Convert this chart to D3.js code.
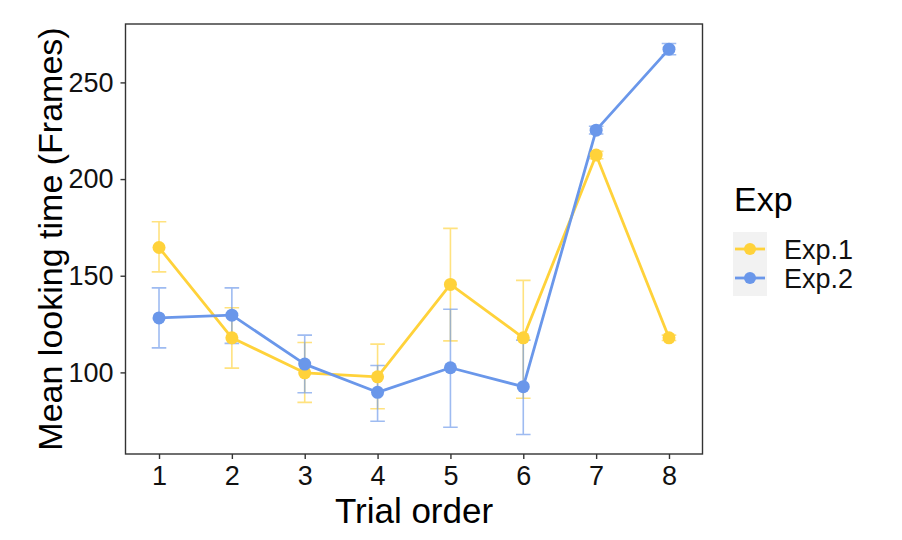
<!DOCTYPE html>
<html>
<head>
<meta charset="utf-8">
<script src="https://cdn.jsdelivr.net/npm/d3@7"></script>
<style>
  html, body { margin: 0; padding: 0; background: #fff; }
  svg { display: block; font-family: "Liberation Sans", Arial, sans-serif; }
</style>
</head>
<body>
<svg id="chart" width="902" height="540"></svg>
<script>
// ---- data ----
const trials = [1, 2, 3, 4, 5, 6, 7, 8];
const seriesNames = ["Exp.1", "Exp.2"];
const exp1Mean  = [164.6, 117.9, 99.8, 97.7, 145.5, 117.9, 212.4, 117.9];
const exp1Lower = [152.0, 102.2, 84.5, 81.2, 116.3, 86.6, 210.5, 116.5];
const exp1Upper = [177.9, 133.4, 115.5, 114.6, 174.5, 147.6, 214.3, 119.3];
const exp2Mean  = [128.2, 129.6, 104.3, 89.7, 102.4, 92.6, 225.3, 267.2];
const exp2Lower = [112.7, 115.0, 89.5, 74.7, 71.6, 67.9, 223.3, 264.3];
const exp2Upper = [143.7, 143.7, 119.3, 103.6, 132.7, 116.7, 227.3, 270.1];
const yTicks = [100, 150, 200, 250];
const xTicks = [1, 2, 3, 4, 5, 6, 7, 8];
const colors = ["#FFD23A", "#6A97EA"];

const series = [
  { name: seriesNames[0], color: colors[0], mean: exp1Mean, lo: exp1Lower, hi: exp1Upper },
  { name: seriesNames[1], color: colors[1], mean: exp2Mean, lo: exp2Lower, hi: exp2Upper }
];

// ---- layout ----
const panel = { left: 125.5, right: 702.5, top: 24, bottom: 454 };
const barW = 0.2;

const allLo = d3.min([...exp1Lower, ...exp2Lower]);
const allHi = d3.max([...exp1Upper, ...exp2Upper]);
const yPad = (allHi - allLo) * 0.05;
const xLo = d3.min(trials) - barW / 2, xHi = d3.max(trials) + barW / 2;
const xPad = (xHi - xLo) * 0.05;

const x = d3.scaleLinear().domain([xLo - xPad, xHi + xPad]).range([panel.left, panel.right]);
const y = d3.scaleLinear().domain([allLo - yPad, allHi + yPad]).range([panel.bottom, panel.top]);

const svg = d3.select("#chart");

svg.append("rect")
  .attr("x", panel.left).attr("y", panel.top)
  .attr("width", panel.right - panel.left).attr("height", panel.bottom - panel.top)
  .attr("fill", "#fff");

const g = svg.append("g");

// error bars
series.forEach(s => {
  const eg = g.append("g").attr("stroke", s.color).attr("stroke-opacity", 0.65)
    .attr("stroke-width", 1.6).attr("fill", "none");
  trials.forEach((t, i) => {
    const x0 = x(t - barW / 2), x1 = x(t + barW / 2), xc = x(t);
    eg.append("path")
      .attr("d", `M${x0},${y(s.hi[i])}H${x1}M${xc},${y(s.hi[i])}V${y(s.lo[i])}M${x0},${y(s.lo[i])}H${x1}`);
  });
});

// lines
const line = d3.line().x((d, i) => x(trials[i])).y(d => y(d));
series.forEach(s => {
  g.append("path").datum(s.mean)
    .attr("d", line)
    .attr("fill", "none")
    .attr("stroke", s.color)
    .attr("stroke-width", 2.8)
    .attr("stroke-linejoin", "round");
});

// points
series.forEach(s => {
  g.append("g").selectAll("circle").data(s.mean).join("circle")
    .attr("cx", (d, i) => x(trials[i]))
    .attr("cy", d => y(d))
    .attr("r", 6.5)
    .attr("fill", s.color);
});

// panel border
svg.append("rect")
  .attr("x", panel.left).attr("y", panel.top)
  .attr("width", panel.right - panel.left).attr("height", panel.bottom - panel.top)
  .attr("fill", "none").attr("stroke", "#333").attr("stroke-width", 1.4);

// axes
const yAxis = d3.axisLeft(y).tickValues(yTicks).tickSize(5).tickPadding(7);
const yg = svg.append("g").attr("transform", `translate(${panel.left},0)`).call(yAxis);
yg.select(".domain").remove();
yg.selectAll(".tick line").attr("stroke", "#333").attr("stroke-width", 1.4);
yg.selectAll(".tick text").attr("fill", "#111").style("font-size", "27px")
  .attr("font-family", "Liberation Sans, Arial, sans-serif");

const xAxis = d3.axisBottom(x).tickValues(xTicks).tickSize(5).tickPadding(7).tickFormat(d3.format("d"));
const xg = svg.append("g").attr("transform", `translate(0,${panel.bottom})`).call(xAxis);
xg.select(".domain").remove();
xg.selectAll(".tick line").attr("stroke", "#333").attr("stroke-width", 1.4);
xg.selectAll(".tick text").attr("fill", "#111").style("font-size", "27px")
  .attr("font-family", "Liberation Sans, Arial, sans-serif");

// axis titles
svg.append("text")
  .attr("x", (panel.left + panel.right) / 2).attr("y", 523)
  .attr("text-anchor", "middle").attr("fill", "#000")
  .style("font-size", "35px")
  .text("Trial order");

svg.append("text")
  .attr("transform", `translate(62,${(panel.top + panel.bottom) / 2}) rotate(-90)`)
  .attr("text-anchor", "middle").attr("fill", "#000")
  .style("font-size", "34px")
  .text("Mean looking time (Frames)");

// legend
const lg = svg.append("g");
lg.append("text").attr("x", 734).attr("y", 211)
  .attr("fill", "#000").style("font-size", "34px").text("Exp");

const keyY = [249, 278];
lg.append("rect").attr("x", 733).attr("y", 232).attr("width", 34).attr("height", 64).attr("fill", "#F2F2F2");
series.forEach((s, i) => {
  lg.append("line").attr("x1", 735).attr("x2", 765).attr("y1", keyY[i]).attr("y2", keyY[i])
    .attr("stroke", s.color).attr("stroke-width", 2.8);
  lg.append("circle").attr("cx", 750).attr("cy", keyY[i]).attr("r", 6).attr("fill", s.color);
  lg.append("text").attr("x", 784).attr("y", keyY[i]).attr("dy", "0.36em")
    .attr("fill", "#111").style("font-size", "27px").text(s.name);
});
</script>
</body>
</html>
